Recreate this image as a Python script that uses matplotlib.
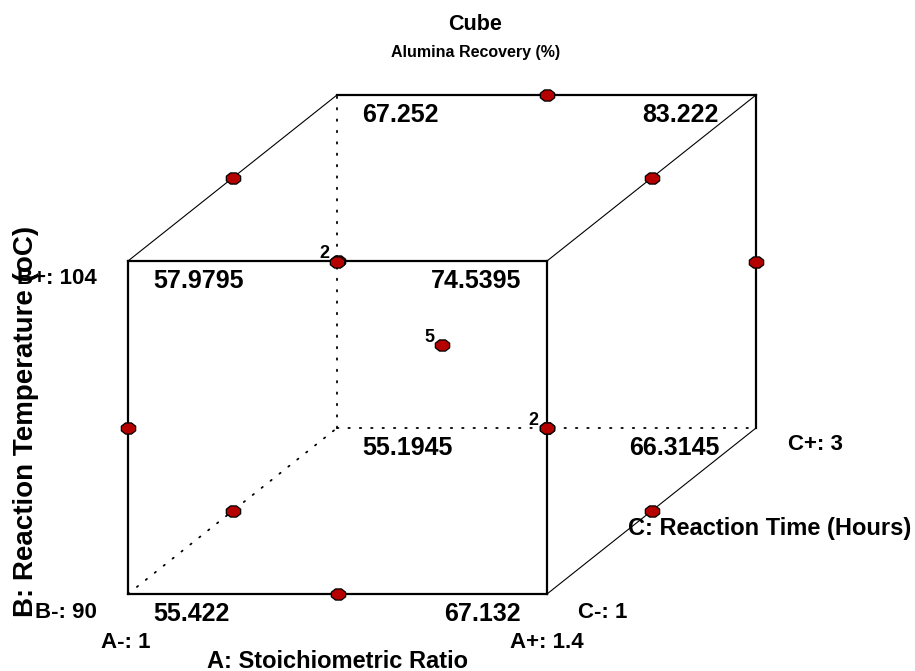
import matplotlib
matplotlib.use("Agg")
import matplotlib.pyplot as plt
import numpy as np
from matplotlib.path import Path
from itertools import product

plt.rcParams["font.family"] = ["Liberation Sans", "DejaVu Sans"]
plt.rcParams["font.weight"] = "bold"

# ---- factors ----
factor_names = ["A: Stoichiometric Ratio", "B: Reaction Temperature (oC)", "C: Reaction Time (Hours)"]
low_levels = ["1", "90", "1"]
high_levels = ["1.4", "104", "3"]

# ---- predicted response at cube corners (coded A, B, C) ----
corner_A = [-1, 1, -1, 1, -1, 1, -1, 1]
corner_B = [-1, -1, 1, 1, -1, -1, 1, 1]
corner_C = [-1, -1, -1, -1, 1, 1, 1, 1]
corner_values = [55.422, 67.132, 57.9795, 74.5395, 55.1945, 66.3145, 67.252, 83.222]

# ---- design runs (Box-Behnken: edge midpoints + centre replicates) ----
run_A = [0, 0, 0, 0, -1, 1, -1, 1, -1, 1, -1, 1, 0]
run_B = [-1, 1, -1, 1, 0, 0, 0, 0, -1, -1, 1, 1, 0]
run_C = [-1, -1, 1, 1, -1, -1, 1, 1, 0, 0, 0, 0, 0]
run_reps = [1, 1, 1, 1, 1, 1, 1, 1, 1, 1, 1, 1, 5]

title = "Cube"
subtitle = "Alumina Recovery (%)"

# ---- oblique projection of the coded cube onto the page (pixel units) ----
W, H = 915, 671
CX, CY = 442.0, 344.5          # centre of the cube
HA, HB = 209.5, 166.5          # half extents of front face
DX, DY = 104.5, -83.0          # half depth offset (C direction)


def proj(a, b, c):
    a, b, c = np.asarray(a, float), np.asarray(b, float), np.asarray(c, float)
    return CX + a * HA + c * DX, CY - b * HB + c * DY


fig = plt.figure(figsize=(W / 100, H / 100), dpi=100)
ax = fig.add_axes([0, 0, 1, 1])
ax.set_xlim(0, W)
ax.set_ylim(H, 0)
ax.axis("off")

# ---- cube edges ----
hidden = (-1, -1, 1)
verts = list(product([-1, 1], repeat=3))
for v1 in verts:
    for v2 in verts:
        if v1 >= v2 or sum(p != q for p, q in zip(v1, v2)) != 1:
            continue
        axis_changed = [p != q for p, q in zip(v1, v2)].index(True)
        xs, ys = proj([v1[0], v2[0]], [v1[1], v2[1]], [v1[2], v2[2]])
        if hidden in (v1, v2):
            ax.plot(xs, ys, color="black", lw=1.3, ls=(0, (0.8, 5.5)),
                    dash_capstyle="round", zorder=1)
        elif axis_changed == 2:
            ax.plot(xs, ys, color="black", lw=0.8, zorder=1)
        else:
            ax.plot(xs, ys, color="black", lw=1.6, solid_capstyle="projecting", zorder=1)

# ---- design points ----
t = np.linspace(0, 2 * np.pi, 9)[:-1] + np.pi / 8
blob = Path(np.column_stack([np.cos(t), 0.78 * np.sin(t)]).tolist() + [[0, 0]],
            [Path.MOVETO] + [Path.LINETO] * 7 + [Path.CLOSEPOLY])
px, py = proj(run_A, run_B, run_C)
ax.plot(px, py, ls="none", marker=blob, ms=10.3, mfc="#b50000", mec="black",
        mew=0.9, zorder=3)

# count coincident points in the projected view
groups = {}
for x, y, n in zip(px, py, run_reps):
    key = (round(x / 6), round(y / 6))
    g = groups.setdefault(key, [x, y, 0])
    g[2] += n
for x, y, n in groups.values():
    if n > 1:
        ax.annotate(str(n), (x, y), xytext=(-8, -1), textcoords="offset pixels",
                    ha="right", va="bottom", fontsize=13, fontweight="bold", zorder=4)

# ---- corner values ----
cx, cy = proj(corner_A, corner_B, corner_C)
for x, y, a, c, val in zip(cx, cy, corner_A, corner_C, corner_values):
    if a < 0:
        dx, ha = 25, "left"
    else:
        dx, ha = (-26 if c < 0 else -37), "right"
    ax.annotate(f"{val:g}", (x, y), xytext=(dx, -20), textcoords="offset pixels",
                ha=ha, va="center", fontsize=18, fontweight="bold")

# ---- factor level labels ----
fs = 16
x0, y0 = proj(-1, -1, -1)
x1, _ = proj(1, -1, -1)
_, yt = proj(-1, 1, -1)
ax.annotate(f"A-: {low_levels[0]}", (x0, y0), xytext=(-2, -48), textcoords="offset pixels",
            ha="center", va="center", fontsize=fs, fontweight="bold")
ax.annotate(f"A+: {high_levels[0]}", (x1, y0), xytext=(0, -48), textcoords="offset pixels",
            ha="center", va="center", fontsize=fs, fontweight="bold")
ax.annotate(factor_names[0], ((x0 + x1) / 2, y0), xytext=(0, -67), textcoords="offset pixels",
            ha="center", va="center", fontsize=17, fontweight="bold")

ax.annotate(f"B+: {high_levels[1]}", (x0, yt), xytext=(-31, -18), textcoords="offset pixels",
            ha="right", va="center", fontsize=fs, fontweight="bold")
ax.annotate(f"B-: {low_levels[1]}", (x0, y0), xytext=(-31, -18), textcoords="offset pixels",
            ha="right", va="center", fontsize=fs, fontweight="bold")
ax.text(26, (y0 + yt) / 2 - 6, factor_names[1], rotation=90, ha="center", va="center",
        fontsize=20, fontweight="bold")

xc0, yc0 = proj(1, -1, -1)
xc1, yc1 = proj(1, -1, 1)
ax.annotate(f"C-: {low_levels[2]}", (xc0, yc0), xytext=(31, -19), textcoords="offset pixels",
            ha="left", va="center", fontsize=fs, fontweight="bold")
ax.annotate(f"C+: {high_levels[2]}", (xc1, yc1), xytext=(32, -17), textcoords="offset pixels",
            ha="left", va="center", fontsize=fs, fontweight="bold")
ax.annotate(factor_names[2], ((xc0 + xc1) / 2, (yc0 + yc1) / 2), xytext=(-23, -17),
            textcoords="offset pixels", ha="left", va="center", fontsize=17, fontweight="bold")

# ---- titles ----
fig.text(475 / W, 1 - 24 / H, title, ha="center", va="center", fontsize=15.5, fontweight="bold")
fig.text(476 / W, 1 - 53 / H, subtitle, ha="center", va="center", fontsize=11.5, fontweight="bold")

fig.savefig("out.png", dpi=100, facecolor="white")
